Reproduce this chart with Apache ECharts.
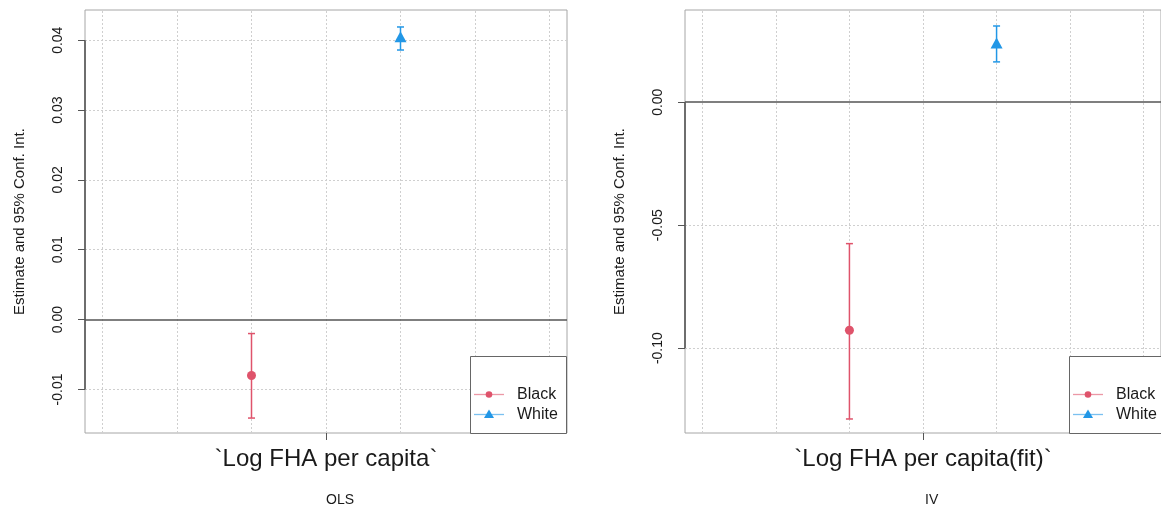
<!DOCTYPE html>
<html>
<head>
<meta charset="utf-8">
<script src="https://cdn.jsdelivr.net/npm/echarts@6/dist/echarts.min.js"></script>
<style>
  html, body { margin: 0; padding: 0; background: #fff; }
  #chart { width: 1161px; height: 510px; }
</style>
</head>
<body>
<div id="chart"></div>
<script>
// Groups compared in both regressions
const groups = ['Black', 'White'];
const groupColors = ['#DF536B', '#2297E6'];
const groupSymbols = ['circle', 'triangle'];
const groupPos = [-1, 1];            // horizontal offset of each group around the coefficient

// OLS: point estimates and 95% confidence bounds
const olsEstimate = [-0.0080, 0.0405];
const olsLower    = [-0.0141, 0.0386];
const olsUpper    = [-0.0020, 0.0419];

// IV: point estimates and 95% confidence bounds
const ivEstimate = [-0.0927, 0.0241];
const ivLower    = [-0.1288, 0.0164];
const ivUpper    = [-0.0575, 0.0310];

// Axis ticks
const olsTicks = [-0.01, 0.00, 0.01, 0.02, 0.03, 0.04];
const ivTicks  = [-0.10, -0.05, 0.00];
const xGridLines = [-3, -2, -1, 0, 1, 2, 3];

const panelTitles = ['OLS', 'IV'];
const coefNames = ['`Log FHA per capita`', '`Log FHA per capita(fit)`'];
const yTitle = 'Estimate and 95% Conf. Int.';

const FONT = '"Liberation Sans", Arial, Helvetica, sans-serif';
const TEXT = '#1a1a1a';

const panels = [
  { est: olsEstimate, lo: olsLower, hi: olsUpper, ticks: olsTicks, yMin: -0.01624, yMax: 0.04433,
    grid: { left: 85, top: 10, width: 482, height: 423 }, center: 326, legendX: 470, legendW: 96 },
  { est: ivEstimate, lo: ivLower, hi: ivUpper, ticks: ivTicks, yMin: -0.1345, yMax: 0.0375,
    grid: { left: 685, top: 10, width: 480, height: 423 }, center: 925, legendX: 1069, legendW: 120 }
];
const X_HALF = 3.235;

function errorBar(params, api) {
  const x = api.value(0);
  const pLo = api.coord([x, api.value(1)]);
  const pHi = api.coord([x, api.value(2)]);
  const cap = 3.5;
  const style = { stroke: api.visual('color'), lineWidth: 1.5 };
  return {
    type: 'group',
    children: [
      { type: 'line', shape: { x1: pLo[0], y1: pLo[1], x2: pHi[0], y2: pHi[1] }, style },
      { type: 'line', shape: { x1: pLo[0] - cap, y1: pLo[1], x2: pLo[0] + cap, y2: pLo[1] }, style },
      { type: 'line', shape: { x1: pHi[0] - cap, y1: pHi[1], x2: pHi[0] + cap, y2: pHi[1] }, style }
    ]
  };
}

const grids = [], xAxes = [], yAxes = [], series = [], graphics = [];

panels.forEach((p, i) => {
  grids.push(Object.assign({ show: true, borderColor: '#a6a6a6', borderWidth: 1, backgroundColor: 'transparent' }, p.grid));
  xAxes.push({
    type: 'value', gridIndex: i, min: -X_HALF, max: X_HALF,
    axisLine: { show: false, onZero: false },
    splitLine: { show: false },
    axisTick: { show: true, customValues: [0], length: 7, lineStyle: { color: '#555' } },
    axisLabel: { show: true, customValues: [0], margin: 14, fontSize: 24, color: TEXT, fontFamily: FONT,
                 formatter: () => coefNames[i] }
  });
  yAxes.push({
    type: 'value', gridIndex: i, min: p.yMin, max: p.yMax,
    axisLine: { show: false, onZero: false },
    splitLine: { show: false },
    axisTick: { show: true, customValues: p.ticks, length: 7, lineStyle: { color: '#555' } },
    axisLabel: { show: true, customValues: p.ticks, rotate: 90, margin: 20, fontSize: 14, color: TEXT,
                 fontFamily: FONT, formatter: v => v.toFixed(2) },
    name: yTitle, nameLocation: 'middle', nameRotate: 90, nameGap: 58,
    nameTextStyle: { fontSize: 15, color: TEXT, fontFamily: FONT }
  });

  // Background grid, zero reference line and the y axis segment
  series.push({
    type: 'line', xAxisIndex: i, yAxisIndex: i, data: [], z: 1, silent: true,
    markLine: {
      z: 1, symbol: 'none', silent: true, animation: false, label: { show: false },
      lineStyle: { color: '#cfcfcf', type: [2, 2], width: 1 },
      data: xGridLines.map(v => ({ xAxis: v }))
        .concat(p.ticks.filter(v => v !== 0).map(v => ({ yAxis: v })))
        .concat([
          { yAxis: 0, lineStyle: { color: '#555', type: 'solid', width: 1.6 } },
          [ { coord: [-X_HALF, p.ticks[0]], lineStyle: { color: '#555', type: 'solid', width: 1.6 } },
            { coord: [-X_HALF, p.ticks[p.ticks.length - 1]] } ]
        ])
    }
  });

  groups.forEach((g, k) => {
    series.push({
      type: 'custom', name: g, xAxisIndex: i, yAxisIndex: i, z: 3,
      itemStyle: { color: groupColors[k], opacity: 0.6 },
      renderItem: errorBar, encode: { x: 0, y: [1, 2] },
      data: [[groupPos[k], p.lo[k], p.hi[k]]]
    });
    series.push({
      type: 'scatter', name: g, xAxisIndex: i, yAxisIndex: i, z: 4,
      symbol: groupSymbols[k], symbolSize: k === 0 ? 9 : [12, 11],
      itemStyle: { color: groupColors[k], opacity: 1 },
      data: [[groupPos[k], p.est[k]]]
    });
  });

  // Panel caption under the axis
  graphics.push({
    type: 'text', left: p.center, top: 493, z: 100,
    style: { text: panelTitles[i], fontSize: 14, fill: TEXT, font: '14px ' + FONT, textAlign: 'center' }
  });

  // Legend box
  const lx = p.legendX;
  graphics.push({
    type: 'rect', z: 100,
    shape: { x: lx + 0.5, y: 356.5, width: p.legendW, height: 77 },
    style: { fill: '#fff', stroke: '#666', lineWidth: 1 }
  });
  groups.forEach((g, k) => {
    const y = 394.5 + k * 20;
    graphics.push({
      type: 'line', z: 101,
      shape: { x1: lx + 4, y1: y, x2: lx + 34, y2: y },
      style: { stroke: groupColors[k], lineWidth: 1.3, opacity: 0.6 }
    });
    if (k === 0) {
      graphics.push({ type: 'circle', z: 102, shape: { cx: lx + 19, cy: y, r: 3.3 },
                      style: { fill: groupColors[k] } });
    } else {
      graphics.push({ type: 'polygon', z: 102,
                      shape: { points: [[lx + 19, y - 5], [lx + 24, y + 3.5], [lx + 14, y + 3.5]] },
                      style: { fill: groupColors[k] } });
    }
    graphics.push({
      type: 'text', z: 102, x: lx + 47, y: y,
      style: { text: g, font: '16px ' + FONT, fill: TEXT, textVerticalAlign: 'middle', verticalAlign: 'middle' }
    });
  });
});

const chart = echarts.init(document.getElementById('chart'), null, { renderer: 'canvas' });
chart.setOption({
  animation: false,
  backgroundColor: '#fff',
  grid: grids,
  xAxis: xAxes,
  yAxis: yAxes,
  series: series,
  graphic: graphics
});
</script>
</body>
</html>
